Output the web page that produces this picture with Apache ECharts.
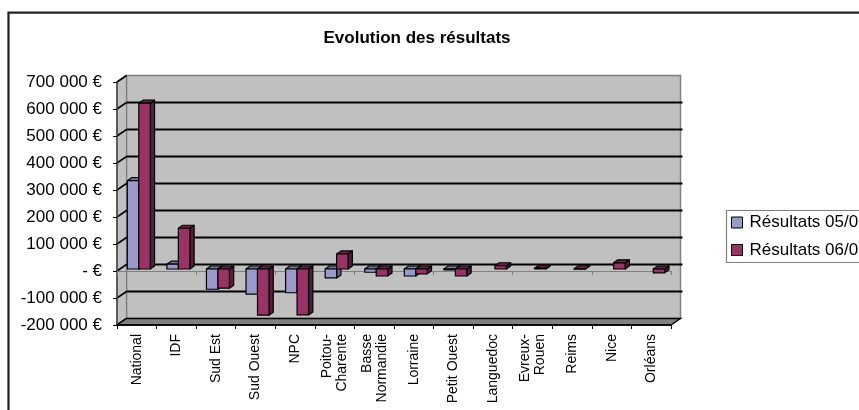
<!DOCTYPE html>
<html>
<head>
<meta charset="utf-8">
<script src="https://cdn.jsdelivr.net/npm/echarts@6/dist/echarts.min.js"></script>
<style>
html,body{margin:0;padding:0;background:#fff;}
#chart{width:859px;height:410px;}
</style>
</head>
<body>
<div id="chart"></div>
<script>
// ---- data ----
const categories = ['National','IDF','Sud Est','Sud Ouest','NPC','Poitou-\nCharente','Basse\nNormandie','Lorraine','Petit Ouest','Languedoc','Evreux-\nRouen','Reims','Nice','Orléans'];
const seriesNames = ['Résultats 05/06','Résultats 06/07'];
const results0506 = [327000, 18000, -75000, -93000, -88000, -33000, -12000, -26000, -3000, null, null, null, null, null];
const results0607 = [614000, 151000, -71000, -171000, -170000, 56000, -26000, -18000, -26000, 12000, 3000, 1000, 23000, -14000];
const yTicks = [-200000,-100000,0,100000,200000,300000,400000,500000,600000,700000];
const yTickLabels = ['-200 000 €','-100 000 €','- €','100 000 €','200 000 €','300 000 €','400 000 €','500 000 €','600 000 €','700 000 €'];
const chartTitle = 'Evolution des résultats';

// ---- style ----
const FONT = 'Liberation Sans, Arial, sans-serif';
const DX = 9.5, DY = -6.5;        // depth of the 3D box
const BDX = 4.3, BDY = -3;        // depth of each bar
const SHX = 2, SHY = -2;          // bar plane offset
const frontColors = ['#9999CC', '#993366'];
const sideColors  = ['#62628f', '#561c39'];
const topColors   = ['#7b7bab', '#6e2448'];

const chart = echarts.init(document.getElementById('chart'), null, {renderer:'canvas'});

function frameRender(params, api) {
  const cs = params.coordSys;
  const L = cs.x, R = cs.x + cs.width, T = cs.y, B = cs.y + cs.height;
  const children = [];
  children.push({type:'rect', shape:{x:L+DX, y:T+DY, width:cs.width, height:cs.height},
    style:{fill:'#c0c0c0', stroke:'#808080', lineWidth:1.5}});
  children.push({type:'polygon', shape:{points:[[L,T],[L+DX,T+DY],[L+DX,B+DY],[L,B]]},
    style:{fill:'#c0c0c0', stroke:'#808080', lineWidth:1.2}});
  yTicks.forEach(function(t, k){
    const y = api.coord([0, t])[1];
    if (k > 0 && k < yTicks.length - 1) {
      children.push({type:'line', shape:{x1:L+DX, y1:y+DY, x2:R+DX+2, y2:y+DY},
        style:{stroke:'#000', lineWidth:2}});
    }
    children.push({type:'line', shape:{x1:L, y1:y, x2:L+DX, y2:y+DY},
      style:{stroke:'#000', lineWidth:1.6}});
  });
  children.push({type:'polygon', shape:{points:[[L,B],[L+DX,B+DY],[R+DX,B+DY],[R,B]]},
    style:{fill:'#808080', stroke:'#000', lineWidth:1.3}});
  return {type:'group', children:children};
}

function barRender(sIdx) {
  return function(params, api) {
    const i = api.value(0), v = api.value(1);
    if (v === null || v === undefined || isNaN(v)) return;
    const base = api.coord([i, 0]);
    const top = api.coord([i, v]);
    const band = api.size([1, 0])[0];
    const w = band * 0.29;
    const x0 = base[0] + SHX + (sIdx === 0 ? -w : 0);
    const y0 = base[1] + SHY, yv = top[1] + SHY;
    const yT = Math.min(y0, yv), yB = Math.max(y0, yv);
    const st = {stroke:'#000', lineWidth:1.2, lineJoin:'round'};
    return {type:'group', children:[
      {type:'polygon', shape:{points:[[x0+w,yT],[x0+w+BDX,yT+BDY],[x0+w+BDX,yB+BDY],[x0+w,yB]]},
        style:Object.assign({fill:sideColors[sIdx]}, st)},
      {type:'polygon', shape:{points:[[x0,yT],[x0+w,yT],[x0+w+BDX,yT+BDY],[x0+BDX,yT+BDY]]},
        style:Object.assign({fill:topColors[sIdx]}, st)},
      {type:'rect', shape:{x:x0, y:yT, width:w, height:Math.max(yB-yT, 0.5)},
        style:Object.assign({fill:frontColors[sIdx]}, st)}
    ]};
  };
}

const option = {
  animation: false,
  backgroundColor: '#fff',
  title: {
    text: chartTitle, left: 417, top: 30, textAlign: 'center', padding: 0,
    textStyle: {fontFamily: FONT, fontSize: 17, fontWeight: 'bold', color: '#000'}
  },
  legend: {
    orient: 'vertical', left: 726, top: 210,
    padding: [4, 0, 4, 5], itemGap: 10.5,
    itemWidth: 11, itemHeight: 11, icon: 'rect',
    borderWidth: 0,
    itemStyle: {borderColor: '#000', borderWidth: 1},
    textStyle: {fontFamily: FONT, fontSize: 17, color: '#000', lineHeight: 17, padding: [0, 0, 0, 2]},
    data: seriesNames
  },
  graphic: [{
    type: 'polyline', shape: {points: [[8.5, 420], [8.5, 12.7], [900, 12.7]]},
    style: {fill: null, stroke: '#222', lineWidth: 2.2}, z: 10, silent: true
  }, {
    type: 'rect', shape: {x: 726.5, y: 210.5, width: 300, height: 52},
    style: {fill: null, stroke: '#808080', lineWidth: 1.2}, z: 10, silent: true
  }],
  grid: {left: 117, right: 188, top: 82, bottom: 85, containLabel: false},
  xAxis: [{
    type: 'category', data: categories, position: 'bottom', z: 3,
    axisLine: {onZero: false, lineStyle: {color: '#000', width: 1.5}},
    axisTick: {show: true, length: 4, lineStyle: {color: '#000', width: 1}},
    axisLabel: {rotate: 90, interval: 0, margin: 9, fontFamily: FONT, fontSize: 14,
      color: '#000', lineHeight: 15}
  }, {
    type: 'category', data: categories, position: 'bottom', z: 3,
    axisLine: {onZero: true, lineStyle: {color: '#808080', width: 1}},
    axisTick: {show: true, length: 4, lineStyle: {color: '#808080', width: 1}},
    axisLabel: {show: false}
  }],
  yAxis: {
    type: 'value', min: -200000, max: 700000, interval: 100000, z: 3,
    axisLine: {show: true, lineStyle: {color: '#404040', width: 1.5}},
    axisTick: {show: true, length: 4, lineStyle: {color: '#000', width: 1}},
    splitLine: {show: false},
    axisLabel: {margin: 15, fontFamily: FONT, fontSize: 17, color: '#000',
      formatter: function(v){ const k = yTicks.indexOf(v); return k >= 0 ? yTickLabels[k] : ''; }}
  },
  series: [{
    type: 'custom', name: '_frame', z: 1, silent: true,
    renderItem: frameRender, data: [[0, 0]], clip: false
  }, {
    type: 'custom', name: seriesNames[0], z: 5,
    itemStyle: {color: frontColors[0]},
    renderItem: barRender(0),
    data: results0506.map(function(v, i){ return [i, v]; })
  }, {
    type: 'custom', name: seriesNames[1], z: 6,
    itemStyle: {color: frontColors[1]},
    renderItem: barRender(1),
    data: results0607.map(function(v, i){ return [i, v]; })
  }]
};
chart.setOption(option);
</script>
</body>
</html>
